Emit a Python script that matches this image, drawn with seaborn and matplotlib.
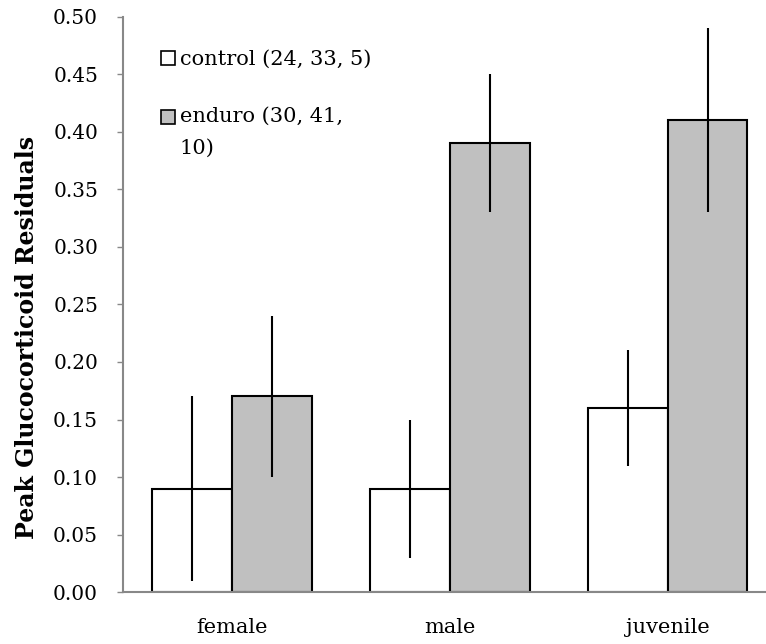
import matplotlib
matplotlib.use("Agg")
import matplotlib.pyplot as plt
import seaborn as sns
import pandas as pd
from matplotlib.patches import Patch, Rectangle
from matplotlib.legend_handler import HandlerPatch

categories = ["female", "male", "juvenile"]
groups = ["control (24, 33, 5)", "enduro (30, 41,\n10)"]
control_vals = [0.09, 0.09, 0.16]
enduro_vals = [0.17, 0.39, 0.41]
control_lo = [0.01, 0.03, 0.11]
control_hi = [0.17, 0.15, 0.21]
enduro_lo = [0.10, 0.33, 0.33]
enduro_hi = [0.24, 0.45, 0.49]
yticks = [0.00, 0.05, 0.10, 0.15, 0.20, 0.25, 0.30, 0.35, 0.40, 0.45, 0.50]

sns.set_theme(style="white")
plt.rcParams["font.family"] = ["DejaVu Serif"]
plt.rcParams["text.color"] = "black"
plt.rcParams["xtick.color"] = "black"
plt.rcParams["ytick.color"] = "black"
plt.rcParams["axes.labelcolor"] = "black"

df = pd.DataFrame({
    "category": categories * 2,
    "group": [groups[0]] * 3 + [groups[1]] * 3,
    "value": control_vals + enduro_vals,
})

fig = plt.figure(figsize=(7.66, 6.44), dpi=100)
ax = fig.add_axes([0.1606, 0.0807, 0.8394, 0.893])
colors = {groups[0]: "white", groups[1]: "#c0c0c0"}
sns.barplot(data=df, x="category", y="value", hue="group", order=categories,
            hue_order=groups, palette=colors, errorbar=None, width=0.73,
            edgecolor="black", linewidth=1.5, ax=ax, legend=False)

los = [control_lo, enduro_lo]
his = [control_hi, enduro_hi]
for gi, cont in enumerate(ax.containers):
    for ci, bar in enumerate(cont):
        xc = bar.get_x() + bar.get_width() / 2
        ax.vlines(xc, los[gi][ci], his[gi][ci], color="black", linewidth=1.5, zorder=5)

ax.set_ylim(0, 0.5)
ax.set_xlim(-0.5, 2.45)
ax.set_yticks(yticks)
ax.set_yticklabels([f"{t:.2f}" for t in yticks], fontsize=14.5)
ax.tick_params(axis="y", which="major", length=4.5, width=1, color="#888888", direction="out", left=True, pad=13.5)
ax.tick_params(axis="x", length=0, labelsize=15, pad=19)
ax.set_xlabel("")
ax.set_ylabel("Peak Glucocorticoid Residuals", fontsize=17, fontweight="bold")
ax.yaxis.set_label_coords(-0.13, 0.443)
for s in ["top", "right"]:
    ax.spines[s].set_visible(False)
for s in ["left", "bottom"]:
    ax.spines[s].set_color("#888888")
    ax.spines[s].set_linewidth(1.5)


def raised_patch(legend, orig_handle, xdescent, ydescent, width, height, fontsize):
    return Rectangle((-xdescent, -ydescent + 10.8), width, height)


handles = [Patch(facecolor="white", edgecolor="black", linewidth=1.2),
           Patch(facecolor="#c0c0c0", edgecolor="black", linewidth=1.2)]
leg = ax.legend(handles, groups, loc="upper left", bbox_to_anchor=(0.03, 0.975), frameon=False,
                fontsize=15, handlelength=0.65, handleheight=0.65, handletextpad=0.25,
                labelspacing=1.8,
                handler_map={handles[1]: HandlerPatch(patch_func=raised_patch)})
for t in leg.get_texts():
    t.set_linespacing(1.85)

fig.savefig("out.png", dpi=100)
